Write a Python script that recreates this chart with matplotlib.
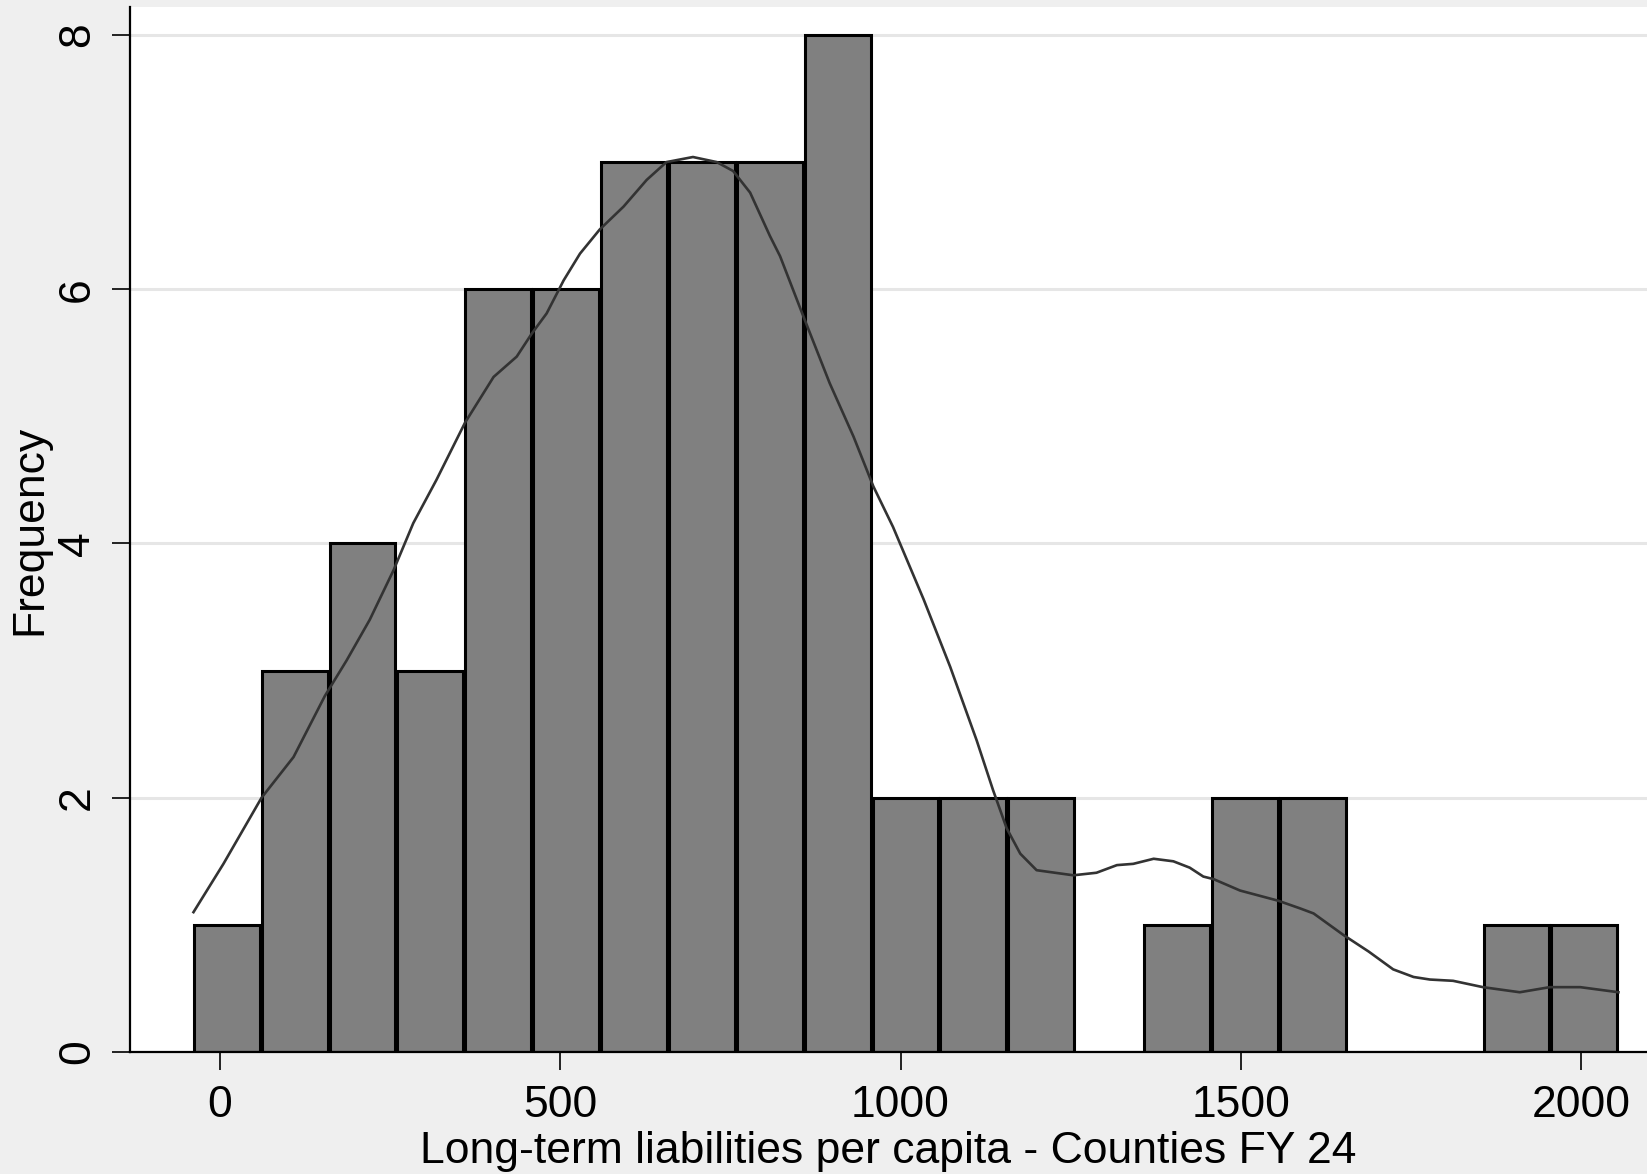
import matplotlib
matplotlib.use("Agg")
import matplotlib.pyplot as plt
import numpy as np

# Histogram: bin layout and counts
bin_start = -40.0
bin_width = 99.75
counts = [1, 3, 4, 3, 6, 6, 7, 7, 7, 8, 2, 2, 2, 0, 1, 2, 2, 0, 0, 1, 1]

# Kernel density overlay, scaled to frequency
kde_x = [-39, 5, 61, 108, 154, 186, 220, 255, 284, 318, 360, 402, 436, 458,
         480, 505, 529, 558, 593, 627, 656, 695, 730, 754, 779, 808, 823, 857,
         896, 931, 960, 989, 1034, 1073, 1112, 1136, 1156, 1176, 1200, 1254,
         1288, 1318, 1342, 1372, 1401, 1425, 1445, 1460, 1499, 1555, 1587,
         1607, 1651, 1688, 1724, 1754, 1778, 1812, 1856, 1910, 1954, 1999, 2055]
kde_y = [1.10, 1.48, 2.00, 2.32, 2.80, 3.08, 3.40, 3.79, 4.16, 4.50, 4.95,
         5.31, 5.47, 5.65, 5.81, 6.07, 6.28, 6.47, 6.65, 6.86, 7.00, 7.04,
         7.00, 6.93, 6.76, 6.42, 6.26, 5.79, 5.26, 4.84, 4.45, 4.13, 3.56,
         3.03, 2.45, 2.06, 1.76, 1.56, 1.43, 1.39, 1.41, 1.47, 1.48, 1.52,
         1.50, 1.45, 1.38, 1.36, 1.27, 1.19, 1.13, 1.09, 0.92, 0.79, 0.65,
         0.59, 0.57, 0.56, 0.51, 0.47, 0.51, 0.51, 0.47]

x_ticks = [0, 500, 1000, 1500, 2000]
y_ticks = [0, 2, 4, 6, 8]
x_title = "Long-term liabilities per capita - Counties FY 24"
y_title = "Frequency"

plt.rcParams["font.family"] = ["Liberation Sans", "DejaVu Sans"]

fig = plt.figure(figsize=(16.47, 11.74), dpi=100, facecolor="#efefef")
ax = fig.add_axes([130 / 1647, 1 - 1052 / 1174, 1 - 130 / 1647, (1052 - 7) / 1174])
ax.set_facecolor("white")

# each bar sits inside its bin with a small inset, so neighbouring
# outlines overlap side by side and form a heavier divider
centers = bin_start + bin_width * (np.arange(len(counts)) + 0.5)
ax.bar(centers, counts, width=bin_width - 3.0, align="center", color="#808080",
       edgecolor="black", linewidth=2.2, zorder=2)
ax.plot(kde_x, kde_y, color="#333333", linewidth=1.9, zorder=3,
        solid_joinstyle="round")

ax.set_xlim(-132.3, 2097)
ax.set_ylim(0, 8.22)
ax.set_xticks(x_ticks)
ax.set_yticks(y_ticks)
ax.set_xticklabels([str(v) for v in x_ticks])
ax.set_yticklabels([str(v) for v in y_ticks], rotation=90, va="center")

for y in y_ticks[1:]:
    ax.axhline(y, color="#e6e6e6", linewidth=2.2, zorder=1)

for s in ["top", "right"]:
    ax.spines[s].set_visible(False)
ax.spines["left"].set_linewidth(1.6)
ax.spines["bottom"].set_linewidth(1.6)
ax.spines["left"].set_zorder(4)
ax.spines["bottom"].set_zorder(4)

ax.tick_params(axis="both", length=13, width=1.4, color="#222222",
               labelsize=32, labelcolor="black")
ax.tick_params(axis="x", pad=11)
ax.tick_params(axis="y", pad=10)

ax.set_xlabel(x_title, fontsize=32, labelpad=3)
ax.set_ylabel(y_title, fontsize=32, labelpad=5)

fig.savefig("out.png", dpi=100, facecolor=fig.get_facecolor())
